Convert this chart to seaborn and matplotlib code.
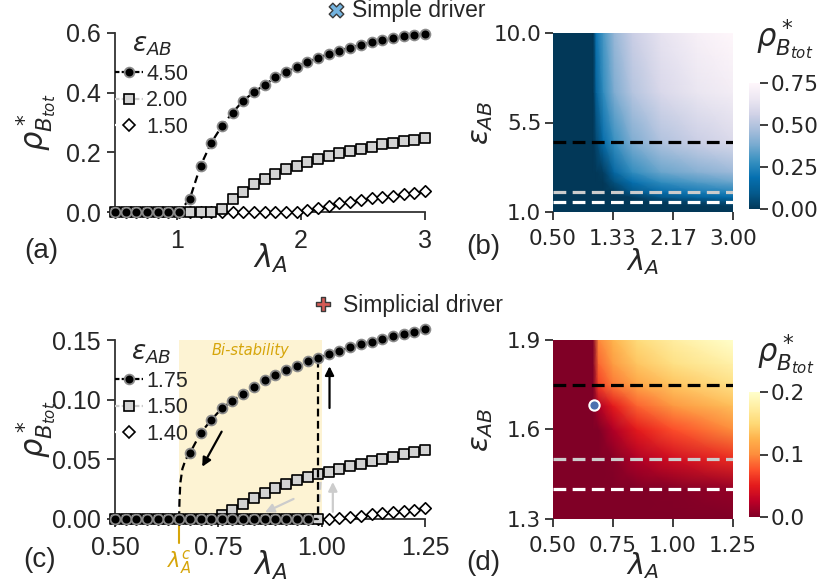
import numpy as np
import matplotlib
matplotlib.use("Agg")
import matplotlib.pyplot as plt
import seaborn as sns
from matplotlib.lines import Line2D
from matplotlib.ticker import FormatStrFormatter

# ---------------- data ----------------
# (a) simple driver: lambda_A samples and rho*_B for eps_AB = 4.5, 2.0, 1.5
lam_a = [0.500, 0.586, 0.672, 0.759, 0.845, 0.931, 1.017, 1.103, 1.190, 1.276,
         1.362, 1.448, 1.534, 1.621, 1.707, 1.793, 1.879, 1.966, 2.052, 2.138,
         2.224, 2.310, 2.397, 2.483, 2.569, 2.655, 2.741, 2.828, 2.914, 3.000]
rho_a_450 = [0, 0, 0, 0, 0, 0, 0,
             0.044, 0.155, 0.232, 0.288, 0.333, 0.373, 0.402, 0.426, 0.451, 0.469,
             0.487, 0.503, 0.516, 0.530, 0.541, 0.551, 0.560, 0.569, 0.577, 0.583,
             0.590, 0.593, 0.597]
rho_a_200 = [0, 0, 0, 0, 0, 0, 0, 0, 0, 0,
             0.010, 0.043, 0.068, 0.093, 0.110, 0.127, 0.143, 0.155, 0.166, 0.178,
             0.188, 0.197, 0.206, 0.212, 0.219, 0.227, 0.232, 0.238, 0.241, 0.247]
rho_a_150 = [0] * 18 + [0.007, 0.014, 0.021, 0.029, 0.035, 0.040, 0.046, 0.051,
                        0.055, 0.060, 0.065, 0.069]
labels_a = ["4.50", "2.00", "1.50"]

# (c) simplicial driver: lambda_A samples, forward (low) and backward (up) branches
lam_c = [0.500, 0.526, 0.552, 0.578, 0.603, 0.629, 0.655, 0.681, 0.707, 0.733,
         0.759, 0.784, 0.810, 0.836, 0.862, 0.888, 0.914, 0.940, 0.966, 0.991,
         1.017, 1.043, 1.069, 1.095, 1.121, 1.147, 1.172, 1.198, 1.224, 1.250]
rho_c_175_up = [0.055, 0.072, 0.083, 0.093, 0.099, 0.105, 0.111, 0.1165, 0.121,
                0.125, 0.128, 0.132, 0.1347, 0.138, 0.141, 0.1438, 0.1463, 0.1487,
                0.151, 0.153, 0.155, 0.157, 0.159]           # lam_c[7:]
rho_c_175_low = [0.0] * 19                                   # lam_c[:19]
lam_c175_tail = [0.655, 0.656, 0.658, 0.663, 0.671, 0.681]   # unstable continuation
rho_c175_tail = [0.0, 0.015, 0.030, 0.042, 0.050, 0.055]
lam_c175_jump = [0.990, 0.990]
rho_c175_jump = [0.0, 0.1347]
rho_c_150_up = [0.003, 0.0075, 0.0126, 0.0176, 0.0218, 0.026, 0.0293, 0.0327,
                0.0352, 0.0377, 0.0394, 0.0418, 0.0441, 0.0463, 0.0484, 0.0504,
                0.0523, 0.0541, 0.0558, 0.0575]              # lam_c[10:]
rho_c_150_low = [0.0] * 20                                   # lam_c[:20]
lam_c150_jump = [0.999, 0.999]
rho_c150_jump = [0.0, 0.0385]
rho_c_140 = [0.0] * 21 + [0.0008, 0.0018, 0.0028, 0.0038, 0.0048, 0.0058,
                          0.0068, 0.0079, 0.009]
labels_c = ["1.75", "1.50", "1.40"]
lam_crit = 0.655
bist_lo, bist_hi, bist_top = 0.655, 1.0, 0.15

# (b) heat map, simple driver (coarse grid)
lam_b = [0.50, 1.00, 1.06, 1.10, 1.20, 1.35, 1.60, 2.00, 2.50, 3.00]
eps_b = [1.0, 1.3, 1.5, 1.75, 2.0, 2.5, 3.0, 4.5, 7.0, 10.0]
rho_b = [
    [0, 0, 0, 0, 0, 0, 0, 0, 0, 0],
    [0, 0, 0, 0, 0, 0, 0, 0, 0, 0.010],
    [0, 0, 0, 0, 0, 0, 0, 0.004, 0.040, 0.068],
    [0, 0, 0, 0, 0, 0, 0.010, 0.090, 0.140, 0.170],
    [0, 0, 0, 0, 0, 0.008, 0.090, 0.168, 0.220, 0.247],
    [0, 0, 0, 0, 0, 0.070, 0.180, 0.270, 0.320, 0.360],
    [0, 0, 0, 0, 0.020, 0.150, 0.270, 0.360, 0.410, 0.450],
    [0, 0, 0, 0.040, 0.170, 0.280, 0.390, 0.490, 0.550, 0.597],
    [0, 0, 0, 0.130, 0.270, 0.390, 0.500, 0.590, 0.650, 0.690],
    [0, 0, 0, 0.200, 0.310, 0.440, 0.550, 0.640, 0.710, 0.750],
]
hlines_b = [4.5, 2.0, 1.5]

# (d) heat map, simplicial driver
lam_d = [0.50, 0.64, 0.667, 0.69, 0.75, 0.85, 1.00, 1.25]
eps_d = [1.30, 1.40, 1.50, 1.60, 1.68, 1.75, 1.82, 1.90]
rho_d = [
    [0, 0, 0, 0, 0, 0, 0, 0],
    [0, 0, 0, 0, 0, 0, 0.002, 0.009],
    [0, 0, 0, 0, 0.003, 0.020, 0.038, 0.058],
    [0, 0, 0, 0, 0.020, 0.050, 0.075, 0.100],
    [0, 0, 0, 0.020, 0.050, 0.083, 0.108, 0.133],
    [0, 0, 0, 0.068, 0.092, 0.116, 0.136, 0.159],
    [0, 0, 0, 0.085, 0.110, 0.137, 0.158, 0.180],
    [0, 0, 0, 0.098, 0.125, 0.152, 0.175, 0.200],
]
hlines_d = [1.75, 1.5, 1.4]
tip_point = (0.671, 1.682)

# ---------------- style ----------------
sns.set_theme(style="ticks")
plt.rcParams["font.family"] = ["Liberation Sans", "DejaVu Sans"]
plt.rcParams["mathtext.fontset"] = "dejavusans"
TXT = "#262626"
GOLD = "#d6a50a"
LGREY = "#cccccc"
line_cols = ["black", LGREY, "white"]

W, H = 822, 582
fig = plt.figure(figsize=(W / 100, H / 100), dpi=100)


def px_axes(x0, y0, x1, y1):
    return fig.add_axes([x0 / W, 1 - y1 / H, (x1 - x0) / W, (y1 - y0) / H])


ax_a = px_axes(115, 33, 425, 212)
ax_b = px_axes(553, 33, 733, 212)
cax_b = px_axes(749, 83, 760, 209)
ax_c = px_axes(115, 340, 425, 519)
ax_d = px_axes(553, 340, 733, 519)
cax_d = px_axes(749, 392, 760, 517)

circle_kw = dict(marker="o", s=50, color="black", edgecolor="#8a8a8a", linewidth=1.3)
square_kw = dict(marker="s", s=44, color="#d3d3d3", edgecolor="black", linewidth=1.2)
diam_kw = dict(marker="D", s=34, color="white", edgecolor="black", linewidth=1.2)


def dline(ax, x, y, color, z):
    sns.lineplot(x=x, y=y, ax=ax, color=color, linestyle=(0, (3.5, 2)), linewidth=1.6,
                 sort=False, estimator=None, clip_on=False, zorder=z, legend=False)


def marks(ax, x, y, kw, z):
    sns.scatterplot(x=x, y=y, ax=ax, clip_on=False, zorder=z, legend=False, **kw)


def legend(ax, labels):
    hs = [Line2D([], [], color=line_cols[0], ls=(0, (2, 1)), lw=1.6, marker="o", ms=7,
                 mfc="black", mec="#8a8a8a", mew=1.3),
          Line2D([], [], color=line_cols[1], ls=(0, (2, 1)), lw=1.6, marker="s", ms=6.5,
                 mfc="#d3d3d3", mec="black", mew=1.2),
          Line2D([], [], color=line_cols[2], ls=(0, (2, 1)), lw=1.6, marker="D", ms=6,
                 mfc="white", mec="black", mew=1.2)]
    leg = ax.legend(hs, labels, title=r"$\varepsilon_{AB}$", loc="upper left",
                    bbox_to_anchor=(0.0, 1.0), frameon=False, handlelength=1.3,
                    handletextpad=0.15, labelspacing=0.25, borderpad=0.0,
                    borderaxespad=0.0, prop={"family": "Liberation Sans", "size": 15.5},
                    title_fontsize=19)
    for t in leg.get_texts():
        t.set_color(TXT)
    leg.get_title().set_color(TXT)


def style_line_axes(ax, fmt):
    ax.tick_params(axis="both", labelsize=18, colors=TXT, length=6, width=1.25)
    ax.tick_params(axis="x", pad=6)
    ax.tick_params(axis="y", pad=4)
    ax.yaxis.set_major_formatter(FormatStrFormatter(fmt))
    for lab in ax.get_xticklabels() + ax.get_yticklabels():
        lab.set_family("Liberation Sans")
    sns.despine(ax=ax, trim=True)
    for s in ("left", "bottom"):
        ax.spines[s].set_color("#333333")
        ax.spines[s].set_linewidth(1.3)
    ax.set_xlabel(r"$\lambda_A$", fontsize=22, color=TXT)
    ax.set_ylabel(r"$\rho^*_{B_{tot}}$", fontsize=22, color=TXT, va="center")
    ax.xaxis.set_label_coords(0.5, -0.165)
    ax.yaxis.set_label_coords(-0.252, 0.5)


# ---------------- (a) ----------------
dline(ax_a, lam_a, rho_a_150, line_cols[2], 2)
marks(ax_a, lam_a, rho_a_150, diam_kw, 3)
dline(ax_a, lam_a, rho_a_200, line_cols[1], 4)
marks(ax_a, lam_a, rho_a_200, square_kw, 5)
dline(ax_a, lam_a, rho_a_450, line_cols[0], 6)
marks(ax_a, lam_a, rho_a_450, circle_kw, 7)
ax_a.set_xlim(0.5, 3.0)
ax_a.set_ylim(0, 0.6)
ax_a.set_xticks([1, 2, 3])
ax_a.set_yticks([0.0, 0.2, 0.4, 0.6])
style_line_axes(ax_a, "%.1f")
legend(ax_a, labels_a)

# ---------------- (c) ----------------
ax_c.fill_between([bist_lo, bist_hi], 0, bist_top, color="#fdf3d3", lw=0, zorder=0)
ax_c.text((bist_lo + bist_hi) / 2, 0.141, "Bi-stability", color=GOLD, style="italic",
          family="DejaVu Sans", fontsize=10.5, ha="center", va="center")
dline(ax_c, lam_c, rho_c_140, line_cols[2], 2)
marks(ax_c, lam_c, rho_c_140, diam_kw, 3)
dline(ax_c, lam_c[:20] + lam_c150_jump[1:], rho_c_150_low + rho_c150_jump[1:], line_cols[1], 4)
dline(ax_c, lam_c[10:], rho_c_150_up, line_cols[1], 4)
marks(ax_c, lam_c[10:], rho_c_150_up, square_kw, 5)
dline(ax_c, lam_c[:19] + lam_c175_jump, rho_c_175_low + rho_c175_jump, line_cols[0], 6)
dline(ax_c, lam_c175_tail + lam_c[8:], rho_c175_tail + rho_c_175_up[1:], line_cols[0], 6)
marks(ax_c, lam_c[:20], rho_c_150_low, square_kw, 5)
marks(ax_c, lam_c[:19], rho_c_175_low, circle_kw, 7)
marks(ax_c, lam_c[7:], rho_c_175_up, circle_kw, 7)

arrow_kw = dict(arrowstyle="-|>", lw=1.6, mutation_scale=13, shrinkA=0, shrinkB=0)
ax_c.annotate("", xy=(0.711, 0.0438), xytext=(0.758, 0.0732),
              arrowprops=dict(color="black", **arrow_kw), zorder=8)
ax_c.annotate("", xy=(1.019, 0.1280), xytext=(1.019, 0.093),
              arrowprops=dict(color="black", **arrow_kw), zorder=8)
ax_c.annotate("", xy=(0.863, 0.0056), xytext=(0.932, 0.0168),
              arrowprops=dict(color=LGREY, **arrow_kw), zorder=8)
ax_c.annotate("", xy=(1.027, 0.031), xytext=(1.027, 0.006),
              arrowprops=dict(color=LGREY, **arrow_kw), zorder=8)

ax_c.set_xlim(0.5, 1.25)
ax_c.set_ylim(0, 0.15)
ax_c.set_xticks([0.5, 0.75, 1.0, 1.25])
ax_c.set_yticks([0.0, 0.05, 0.10, 0.15])
ax_c.xaxis.set_major_formatter(FormatStrFormatter("%.2f"))
style_line_axes(ax_c, "%.2f")
legend(ax_c, labels_c)
ax_c.plot([lam_crit, lam_crit], [0, -0.020], color=GOLD, lw=1.5, clip_on=False, zorder=1)
ax_c.text(lam_crit, -0.036, r"$\lambda_A^c$", color=GOLD, fontsize=15,
          ha="center", va="center")


# ---------------- heat maps ----------------
def heat(ax, cax, lam, eps, z, cmap, vmax, ticks, cfmt, lines, yticks, xticks, xfmt, yfmt,
         xlab_y):
    m = ax.pcolormesh(lam, eps, np.array(z), shading="gouraud", cmap=cmap, vmin=0,
                      vmax=vmax, rasterized=True)
    for e, c in zip(lines, line_cols):
        ax.axhline(e, color=c, ls=(0, (4, 2)), lw=2.3)
    ax.set_xlim(lam[0], lam[-1])
    ax.set_ylim(eps[0], eps[-1])
    ax.set_xticks(xticks)
    ax.set_yticks(yticks)
    ax.xaxis.set_major_formatter(FormatStrFormatter(xfmt))
    ax.yaxis.set_major_formatter(FormatStrFormatter(yfmt))
    for s in ax.spines.values():
        s.set_visible(False)
    ax.tick_params(axis="both", labelsize=15.5, colors=TXT, length=6, width=1.25)
    ax.tick_params(axis="x", pad=6)
    ax.tick_params(axis="y", pad=2.5)
    for lab in ax.get_xticklabels() + ax.get_yticklabels():
        lab.set_family("DejaVu Sans")
    ax.set_xlabel(r"$\lambda_A$", fontsize=21, color=TXT)
    ax.set_ylabel(r"$\varepsilon_{AB}$", fontsize=21, color=TXT, va="center")
    ax.xaxis.set_label_coords(0.5, xlab_y)
    ax.yaxis.set_label_coords(-0.40, 0.5)
    cb = fig.colorbar(m, cax=cax, ticks=ticks, format=FormatStrFormatter(cfmt))
    cb.outline.set_visible(False)
    cax.tick_params(labelsize=15.5, colors=TXT, length=6, width=1.25, pad=1.5)
    for lab in cax.get_yticklabels():
        lab.set_family("DejaVu Sans")
    return m


heat(ax_b, cax_b, lam_b, eps_b, rho_b, "PuBu_r", 0.75, [0, 0.25, 0.5, 0.75], "%.2f",
     hlines_b, [1.0, 5.5, 10.0], [0.5, 4 / 3, 13 / 6, 3.0], "%.2f", "%.1f", -0.19)
heat(ax_d, cax_d, lam_d, eps_d, rho_d, "YlOrRd_r", 0.2, [0, 0.1, 0.2], "%.1f",
     hlines_d, [1.3, 1.6, 1.9], [0.5, 0.75, 1.0, 1.25], "%.2f", "%.1f", -0.172)
ax_d.scatter([tip_point[0]], [tip_point[1]], s=55, color="#4c72b0", edgecolor="white",
             linewidth=1.5, zorder=6)

fig.text(785 / W, 1 - 40 / H, r"$\rho^*_{B_{tot}}$", fontsize=22, color=TXT,
         ha="center", va="center")
fig.text(786 / W, 1 - 355 / H, r"$\rho^*_{B_{tot}}$", fontsize=22, color=TXT,
         ha="center", va="center")

# ---------------- panel letters and titles ----------------
for lab, (x, y) in zip(["(a)", "(b)", "(c)", "(d)"],
                       [(41, 251), (483, 247), (40, 560), (483, 563)]):
    fig.text(x / W, 1 - y / H, lab, fontsize=20, color=TXT, ha="center", va="center",
             family="Liberation Sans")

ov = fig.add_axes([0, 0, 1, 1], zorder=-1)
ov.set_xlim(0, W)
ov.set_ylim(H, 0)
ov.axis("off")
ov.scatter([336], [10], marker="X", s=110, color="#74b4e0", edgecolor="#3a3a3a", linewidth=1)
ov.scatter([323], [304], marker="P", s=110, color="#d65a55", edgecolor="#3a3a3a", linewidth=1)
fig.text(352 / W, 1 - 17 / H, "Simple driver", fontsize=16.5, color=TXT,
         ha="left", va="baseline", family="Liberation Sans")
fig.text(343 / W, 1 - 312 / H, "Simplicial driver", fontsize=16.5, color=TXT,
         ha="left", va="baseline", family="Liberation Sans")

fig.savefig("out.png", dpi=100)
